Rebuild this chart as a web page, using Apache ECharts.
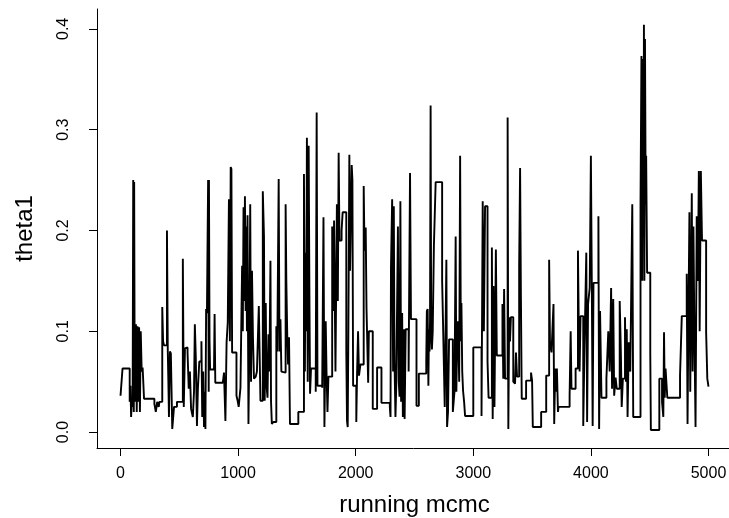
<!DOCTYPE html>
<html>
<head><meta charset="utf-8"></head>
<script type="text/javascript" src="https://cdn.jsdelivr.net/npm/echarts@6/dist/echarts.min.js"></script>
<body style="margin:0;background-color:white;">

    <!-- trace plot of theta1 -->
    <div id="main" style="width: 729px;height:518px;"></div>

</body>

<script>
// iteration where the chain moves, and the value it moves to
var iterations = [
    0, 17, 78, 85, 90, 97, 103, 108, 113, 116, 121, 131, 138, 145, 152, 158, 165, 172, 180, 188,
    200, 288, 300, 312, 325, 331, 355, 362, 370, 395, 402, 407, 412, 420, 428, 440, 455, 480, 530, 538, 548,
    560, 570, 580, 590, 600, 615, 625, 632, 640, 650, 658, 670, 688, 695, 703, 710, 716, 722, 728, 735,
    745, 750, 752, 757, 762, 795, 800, 806, 870, 880, 892, 902, 912, 922, 930, 937, 943, 949, 986, 996,
    1005, 1020, 1034, 1040, 1046, 1052, 1058, 1064, 1070, 1075, 1080, 1088, 1095, 1103, 1110, 1118, 1126, 1135, 1150, 1160,
    1176, 1190, 1210,
    1220, 1226, 1235, 1242, 1250, 1258, 1266, 1275, 1280, 1287, 1300, 1325, 1333, 1345, 1352, 1360, 1368, 1380, 1404, 1410,
    1418, 1425, 1433, 1441, 1512, 1560, 1568, 1572, 1580, 1585, 1592, 1600, 1607, 1612, 1620, 1660, 1668, 1675, 1715, 1726,
    1734, 1745, 1752, 1760, 1768, 1800, 1808, 1816, 1828, 1840, 1848, 1855,
    1862, 1880, 1889, 1920, 1926, 1932, 1938, 1946, 1952, 1966, 1972, 1978, 2005, 2012, 2020, 2028, 2040, 2068, 2075, 2085,
    2092, 2106, 2112, 2145, 2182, 2219, 2290, 2296, 2300, 2310, 2318, 2324, 2330, 2338, 2345, 2359, 2366, 2373, 2380, 2386,
    2395, 2401, 2410, 2416, 2425, 2450, 2462, 2470,
    2517, 2537, 2600, 2605, 2612, 2618, 2623, 2628, 2632, 2637, 2642, 2648, 2655, 2665, 2680, 2735, 2742, 2757, 2771, 2777,
    2785, 2794, 2826, 2840, 2850, 2856, 2862, 2870, 2880, 2888, 2894, 2899, 2906, 2913, 2922, 2930, 3000, 3070, 3080, 3090,
    3100, 3121, 3130,
    3158, 3165, 3172, 3180, 3192, 3200, 3248, 3255, 3262, 3270, 3292, 3298, 3305, 3312, 3320, 3340, 3355, 3363, 3372, 3390,
    3398, 3405, 3412, 3449, 3491, 3500, 3506, 3577, 3620, 3645, 3652, 3665, 3682, 3688, 3697, 3704, 3711, 3720, 3725,
    3819, 3828, 3835, 3870, 3890, 3896, 3904, 3912, 3935, 3945, 3961, 3968, 3976, 3990, 4000, 4008, 4015, 4022, 4064, 4070,
    4078, 4090, 4132, 4148, 4160, 4172, 4180, 4190, 4198, 4210, 4220, 4245, 4255, 4262, 4272, 4290, 4298, 4305, 4312, 4322,
    4335, 4352, 4360, 4422,
    4430, 4437, 4442, 4448, 4451, 4455, 4460, 4466, 4470, 4478, 4505, 4510, 4582, 4605, 4616, 4622, 4628, 4635, 4650, 4758,
    4773, 4815, 4822, 4830, 4838, 4845, 4858, 4865, 4872, 4880, 4890, 4900, 4910, 4918, 4925, 4935, 4945, 4980, 4990, 5000
]
var theta1 = [
    .036, .063, .030, .046, .015, .035, .025, .250, .020, .248, .030, .107, .020, .105, .030, .104, .020, .100, .060, .064,
    .033, .028, .020, .030, .025, .030, .124, .090, .086, .200, .080, .050, .015, .080, .078, .003, .025, .030, .172, .025, .083,
    .084, .079, .043, .060, .023, .015, .040, .107, .075, .006, .043, .070, .090, .015, .060, .005, .040, .003, .122, .118,
    .250, .040, .250, .090, .062, .062, .117, .049, .049, .059, .011, .089, .109, .231, .090, .263, .261, .079, .036, .031,
    .025, .044, .165, .100, .223, .130, .234, .120, .204, .100, .215, .008, .080, .226, .050, .160, .095, .053, .055, .060,
    .125, .031, .239,
    .194, .031, .128, .046, .034, .097, .060, .170, .030, .008, .010, .105, .080, .251, .080, .112, .060, .059, .226, .150,
    .095, .067, .094, .008, .020, .256, .060, .178, .100, .292, .050, .284, .125, .038, .063, .040, .317, .046, .044, .213,
    .005, .110, .059, .020, .055, .204, .120, .210, .060, .226, .130, .277,
    .190, .200, .218, .080, .011, .005, .107, .275, .160, .265, .250, .046, .010, .060, .100, .056, .067, .244, .180, .203,
    .122, .049, .100, .023, .064, .029, .025, .015, .163, .231, .060, .224, .070, .015, .046, .204, .050, .035, .229, .030,
    .118, .015, .102, .013, .102, .060, .257, .112,
    .026, .058, .070, .120, .122, .046, .102, .080, .110, .324, .100, .082, .100, .185, .248, .150, .112, .025, .171, .005,
    .020, .092, .020, .040, .194, .040, .087, .110, .050, .274, .090, .128, .060, .041, .030, .016, .084, .016, .229, .100,
    .224, .070, .034,
    .183, .013, .145, .025, .181, .076, .127, .053, .142, .053, .312, .003, .114, .090, .114, .050, .048, .079, .055, .165,
    .262, .133, .033, .051, .059, .051, .005, .020, .056, .171, .090, .079, .127, .008, .063, .040, .063, .020, .025,
    .036, .100, .043, .063, .180, .115, .060, .115, .006, .079, .178, .010, .127, .143, .274, .143, .006, .148, .214, .003,
    .120, .034, .053, .100, .060, .143, .043, .132, .036, .054, .043, .130, .079, .025, .053, .114, .050, .102, .015, .089,
    .060, .226, .015, .227,
    .373, .150, .370, .200, .404, .150, .390, .226, .274, .158, .079, .002, .053, .030, .015, .099, .034, .063, .034, .056,
    .115, .157, .008, .120, .218, .040, .237, .060, .204, .100, .005, .214, .150, .259, .100, .259, .190, .099, .053, .045
]
var xTicks = [0, 1000, 2000, 3000, 4000, 5000]
var yTicks = [0, 0.1, 0.2, 0.3, 0.4]

var trace = []
for (var i = 0; i < iterations.length; i++) {
    trace.push([iterations[i], theta1[i]])
}

var myChart = echarts.init(document.getElementById('main'))

var font = "'Liberation Sans', Arial, Helvetica, sans-serif"

var option = {
    animation: false,
    backgroundColor: '#fff',
    grid: {
        left: 97,
        top: 9,
        width: 635,
        height: 439,
        containLabel: false,
        outerBoundsMode: 'none'
    },
    xAxis: {
        type: 'value',
        min: -200,
        max: 5200,
        name: 'running mcmc',
        nameLocation: 'middle',
        nameGap: 45,
        nameTextStyle: { color: '#000', fontSize: 24, fontFamily: font },
        splitLine: { show: false },
        axisLine: { onZero: false, lineStyle: { color: '#000', width: 1 } },
        axisTick: { customValues: xTicks, length: 8, lineStyle: { color: '#000', width: 1 } },
        axisLabel: {
            customValues: xTicks,
            color: '#000',
            fontSize: 16,
            fontFamily: font,
            margin: 18,
            formatter: function (v) { return String(v) }
        }
    },
    yAxis: {
        type: 'value',
        min: -0.0158,
        max: 0.4197,
        name: 'theta1',
        nameLocation: 'middle',
        nameGap: 60,
        nameTextStyle: { color: '#000', fontSize: 24, fontFamily: font },
        splitLine: { show: false },
        axisLine: { show: true, onZero: false, lineStyle: { color: '#000', width: 1 } },
        axisTick: { show: true, customValues: yTicks, length: 8, lineStyle: { color: '#000', width: 1 } },
        axisLabel: {
            customValues: yTicks,
            rotate: 90,
            color: '#000',
            fontSize: 16,
            fontFamily: font,
            margin: 25,
            formatter: function (v) { return v.toFixed(1) }
        }
    },
    series: [{
        type: 'line',
        data: trace,
        step: 'end',
        showSymbol: false,
        lineStyle: { color: '#000', width: 1.9 }
    }]
}

option && myChart.setOption(option)
</script>
</html>
